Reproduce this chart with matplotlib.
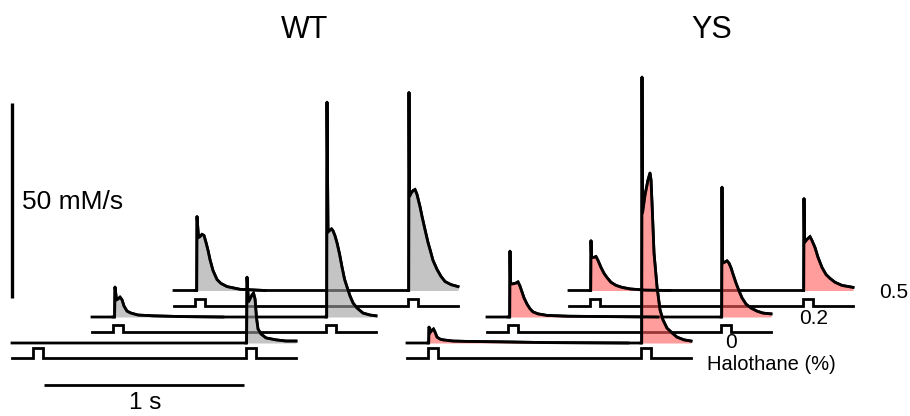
import numpy as np
import matplotlib.pyplot as plt

plt.rcParams['font.family'] = ['Liberation Sans', 'DejaVu Sans']

genotypes = ['WT', 'YS']
halothane = ['0', '0.2', '0.5']   # %, bottom row to top row

sweep_len = 1.42          # s
stim_times = [0.105, 1.17]  # s from sweep start
stim_width = 0.05         # s

# Ca release flux transients: time after stimulus (ms), flux (mM/s)
# WT, 0 % halothane (no response to first pulse)
wt_0_second_ms = [0, 3, 5, 12.5, 20, 30, 37.5, 45, 52.5, 60, 75, 100, 150, 200, 250]
wt_0_second = [0, 0, 16.9, 10.5, 11.3, 12.3, 12.8, 11.3, 6.4, 3.6, 2.3, 1.3, 0.8, 0.5, 0.5]
# WT, 0.2 %
wt_02_first_ms = [0, 8, 10, 17.5, 25, 35, 45, 55, 70, 90, 125, 200, 350, 550]
wt_02_first = [0, 0, 7.7, 4.4, 4.6, 5.1, 4.4, 2.8, 1.5, 1.0, 0.5, 0.3, 0.1, 0]
wt_02_second_ms = [0, 3.5, 5, 10, 20, 27.5, 35, 45, 55, 67.5, 80, 92.5, 105, 120, 135, 155, 185, 220, 250]
wt_02_second = [0, 0, 55.1, 21.8, 22.3, 22.6, 22.1, 20.8, 19.0, 16.2, 12.8, 9.7, 7.7, 5.4, 3.6, 2.3, 1.0, 0.5, 0.3]
# WT, 0.5 %
wt_05_first_ms = [0, 8.5, 10, 17.5, 25, 35, 45, 55, 65, 75, 90, 110, 130, 160, 225, 350]
wt_05_first = [0, 0, 19.0, 13.6, 13.8, 14.4, 14.1, 12.3, 10.3, 7.9, 5.1, 2.8, 1.8, 1.0, 0.3, 0]
wt_05_second_ms = [0, 3.5, 5, 7.5, 15, 25, 35, 45, 60, 70, 85, 100, 110, 125, 145, 165, 185, 215, 250]
wt_05_second = [0, 0, 50.8, 24.1, 24.9, 25.6, 25.9, 24.6, 21.5, 19.0, 15.6, 12.3, 10.5, 7.7, 5.4, 3.6, 2.3, 1.5, 1.0]

# YS, 0 %
ys_0_first_ms = [0, 3.5, 5, 12.5, 20, 27.5, 35, 45, 60, 75, 125, 200, 360, 600, 1000]
ys_0_first = [0, 0, 4.1, 2.8, 3.3, 3.6, 2.8, 1.5, 1.0, 0.8, 0.5, 0.4, 0.3, 0.1, 0]
ys_0_second_ms = [0, 3.5, 5, 7.5, 20, 35, 45, 50, 55, 65, 80, 95, 110, 130, 155, 180, 215, 250]
ys_0_second = [0, 0, 68.2, 33.3, 37.9, 41.8, 43.6, 41.8, 35.9, 23.1, 14.4, 8.5, 5.9, 3.8, 2.6, 1.5, 0.8, 0.5]
# YS, 0.2 %
ys_02_first_ms = [0, 8.5, 10, 12.5, 25, 40, 50, 60, 70, 80, 95, 110, 125, 150, 195, 300, 500, 750]
ys_02_first = [0, 0, 16.9, 8.5, 8.5, 8.7, 9.0, 7.9, 6.4, 4.9, 3.3, 2.1, 1.3, 0.8, 0.4, 0.2, 0.1, 0]
ys_02_second_ms = [0, 3.5, 5, 7.5, 20, 30, 40, 50, 60, 75, 90, 105, 125, 150, 180, 210, 250]
ys_02_second = [0, 0, 33.3, 13.8, 14.1, 14.4, 13.8, 12.6, 11.0, 8.7, 6.7, 4.9, 3.3, 2.3, 1.5, 1.0, 0.8]
# YS, 0.5 %
ys_05_first_ms = [0, 3.5, 5, 7.5, 20, 30, 40, 55, 70, 85, 105, 130, 160, 200, 275, 400]
ys_05_first = [0, 0, 12.8, 8.5, 8.5, 8.7, 7.7, 5.9, 4.4, 3.3, 2.1, 1.3, 0.8, 0.4, 0.1, 0]
ys_05_second_ms = [0, 3.5, 5, 7.5, 20, 35, 45, 60, 75, 95, 115, 135, 160, 195, 250]
ys_05_second = [0, 0, 23.6, 12.3, 13.1, 13.8, 12.8, 11.0, 8.5, 5.9, 4.1, 3.1, 2.1, 1.3, 0.8]

transients = {
    'WT': [[None, (wt_0_second_ms, wt_0_second)],
           [(wt_02_first_ms, wt_02_first), (wt_02_second_ms, wt_02_second)],
           [(wt_05_first_ms, wt_05_first), (wt_05_second_ms, wt_05_second)]],
    'YS': [[(ys_0_first_ms, ys_0_first), (ys_0_second_ms, ys_0_second)],
           [(ys_02_first_ms, ys_02_first), (ys_02_second_ms, ys_02_second)],
           [(ys_05_first_ms, ys_05_first), (ys_05_second_ms, ys_05_second)]],
}

# layout (axes units: s horizontally, mM/s vertically)
px_per_s = 200.0
px_per_flux = 3.9
W, H = 910, 416
panel_x = {'WT': 0.06, 'YS': 2.035}
row_dx = [0.0, 0.40, 0.81]
row_y = [(H - 343) / px_per_flux, (H - 317) / px_per_flux, (H - 290.5) / px_per_flux]
stim_drop = 15 / px_per_flux
pulse_h = [10 / px_per_flux, 7 / px_per_flux, 7 / px_per_flux]
fill_color = {'WT': ('#9e9e9e', 0.6), 'YS': ((1.0, 0.36, 0.36), 0.6)}
lw = 2.0

fig = plt.figure(figsize=(W / 100, H / 100), dpi=100)
ax = fig.add_axes([0, 0, 1, 1])
ax.set_xlim(0, W / px_per_s)
ax.set_ylim(0, H / px_per_flux)
ax.axis('off')

for g in genotypes:
    for r, level in enumerate(halothane):
        x0 = panel_x[g] + row_dx[r]
        y0 = row_y[r]
        t_all, v_all = [0.0], [0.0]
        for k, tr in enumerate(transients[g][r]):
            if tr is None:
                continue
            ms, flux = tr
            tt = stim_times[k] + np.array(ms) / 1000.0
            t_all.extend(tt)
            v_all.extend(flux)
            col, a = fill_color[g]
            ax.fill_between(x0 + tt, y0, y0 + np.array(flux), color=col, alpha=a,
                            lw=0, zorder=2)
            ax.plot(x0 + tt, y0 + np.array(flux), color='black', lw=lw, zorder=3,
                    solid_joinstyle='miter')
        if t_all[-1] < sweep_len:
            t_all.append(sweep_len)
            v_all.append(v_all[-1])
        ax.plot(x0 + np.array(t_all), y0 + np.array(v_all), color='black', lw=lw,
                zorder=1)

        # stimulus trace
        st, sv = [0.0], [0.0]
        for s in stim_times:
            st += [s, s, s + stim_width, s + stim_width]
            sv += [0, pulse_h[r], pulse_h[r], 0]
        st.append(sweep_len)
        sv.append(0)
        ax.plot(x0 + np.array(st), y0 - stim_drop + np.array(sv), color='black',
                lw=lw, zorder=1, solid_joinstyle='miter')

# scale bars: 50 mM/s and 1 s
bar_flux = 50
bar_time = 1
ax.plot([0.06, 0.06], [(H - 298) / px_per_flux, (H - 298) / px_per_flux + bar_flux],
        color='black', lw=2.4, solid_capstyle='butt')
ax.plot([0.22, 0.22 + bar_time], [(H - 385) / px_per_flux] * 2, color='black', lw=2.0,
        solid_capstyle='butt')

fig.text(22 / W, 1 - 209 / H, '50 mM/s', fontsize=19, ha='left', va='baseline')
fig.text(145 / W, 1 - 403 / H, '1 s', fontsize=17.5, ha='center', va='center')
fig.text(305 / W, 1 - 30 / H, 'WT', fontsize=22, ha='center', va='center')
fig.text(712 / W, 1 - 30 / H, 'YS', fontsize=22, ha='center', va='center')
fig.text(879 / W, 1 - 293 / H, '0.5', fontsize=15, ha='left', va='center')
fig.text(799 / W, 1 - 319 / H, '0.2', fontsize=15, ha='left', va='center')
fig.text(731 / W, 1 - 343 / H, '0', fontsize=15, ha='center', va='center')
fig.text(707 / W, 1 - 365 / H, 'Halothane (%)', fontsize=14.5, ha='left', va='center')

fig.savefig('out.png', dpi=100)
